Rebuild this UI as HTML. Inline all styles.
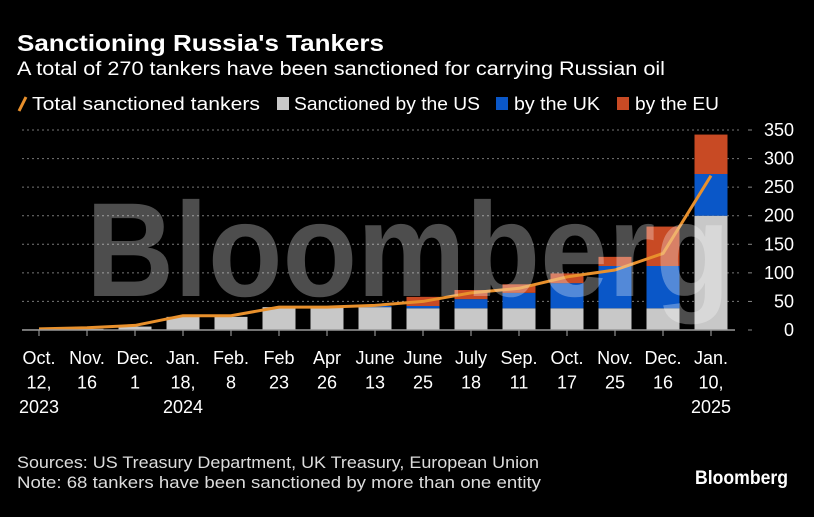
<!DOCTYPE html>
<html><head><meta charset="utf-8"><style>
html,body{margin:0;padding:0;background:#000;width:814px;height:517px;overflow:hidden}
svg{display:block;font-family:"Liberation Sans Narrow","Liberation Sans",sans-serif}
</style></head><body>
<svg id="chart" width="814" height="517" viewBox="0 0 814 517">
<rect width="814" height="517" fill="#000"/>
<text x="17" y="51" fill="#fff" font-size="23" font-weight="bold" textLength="367" lengthAdjust="spacingAndGlyphs">Sanctioning Russia's Tankers</text>
<text x="17" y="75" fill="#fff" font-size="19" textLength="648" lengthAdjust="spacingAndGlyphs">A total of 270 tankers have been sanctioned for carrying Russian oil</text>
<g>
<line x1="19" y1="111" x2="26" y2="97" stroke="#e8902c" stroke-width="3"/>
<text x="32" y="110" fill="#fff" font-size="18" textLength="228" lengthAdjust="spacingAndGlyphs">Total sanctioned tankers</text>
<rect x="277" y="97" width="12" height="13" fill="#c8c8c8"/>
<text x="294" y="110" fill="#fff" font-size="18" textLength="186" lengthAdjust="spacingAndGlyphs">Sanctioned by the US</text>
<rect x="496" y="97" width="12" height="13" fill="#0a57c8"/>
<text x="514" y="110" fill="#fff" font-size="18" textLength="86" lengthAdjust="spacingAndGlyphs">by the UK</text>
<rect x="617" y="97" width="12" height="13" fill="#c84a24"/>
<text x="635" y="110" fill="#fff" font-size="18" textLength="84" lengthAdjust="spacingAndGlyphs">by the EU</text>
</g>
<g id="grid"></g><g id="bars"></g><g id="line"></g>
<text x="408" y="296" text-anchor="middle" fill="#fff" fill-opacity="0.3" font-family="Liberation Sans,sans-serif" font-size="134" font-weight="bold" textLength="644" lengthAdjust="spacingAndGlyphs">Bloomberg</text>
<g id="axis"></g>
<text x="17" y="468" fill="#ddd" font-size="17" textLength="522" lengthAdjust="spacingAndGlyphs">Sources: US Treasury Department, UK Treasury, European Union</text>
<text x="17" y="488" fill="#ddd" font-size="17" textLength="524" lengthAdjust="spacingAndGlyphs">Note: 68 tankers have been sanctioned by more than one entity</text>
<text x="695" y="484" fill="#fff" font-size="19" font-weight="bold" font-family="Liberation Sans,sans-serif" textLength="93" lengthAdjust="spacingAndGlyphs">Bloomberg</text>
</svg>
<script>
const categories1 = ["Oct.","Nov.","Dec.","Jan.","Feb.","Feb","Apr","June","June","July","Sep.","Oct.","Nov.","Dec.","Jan."];
const categories2 = ["12,","16","1","18,","8","23","26","13","25","18","11","17","25","16","10,"];
const categories3 = ["2023","","","2024","","","","","","","","","","","2025"];
const usValues = [1,2,6,23,23,40,40,40,38,38,38,38,38,38,200];
const ukValues = [0,0,0,0,0,0,0,2,4,16,27,44,74,74,73];
const euValues = [0,0,0,0,0,0,0,0,16,16,15,17,16,69,69];
const totalValues = [2,4,8,25,25,40,40,43,50,65,73,93,105,134,270];
const yTicks = [0,50,100,150,200,250,300,350];

const NS="http://www.w3.org/2000/svg";
const x0=39, step=48, y0=330, yScale=200/350, bw=33;
const xPos=i=>x0+i*step;
const yPos=v=>y0-v*yScale;
function mk(tag,attrs,parent){const e=document.createElementNS(NS,tag);for(const k in attrs)e.setAttribute(k,attrs[k]);parent.appendChild(e);return e;}
const grid=document.getElementById('grid'),bars=document.getElementById('bars'),lineG=document.getElementById('line'),axis=document.getElementById('axis');
yTicks.forEach(t=>{
  if(t>0){const g=mk('line',{x1:22,x2:740,y1:yPos(t),y2:yPos(t),stroke:'#777','stroke-width':1,'stroke-dasharray':'2 3'},grid);
  
  }
  const tk=mk('line',{x1:748,x2:752,y1:yPos(t),y2:yPos(t),stroke:'#888'},axis);
  
  
  const lb=mk('text',{x:794,y:yPos(t)+6,'text-anchor':'end',fill:'#fff','font-size':18},axis);
  lb.textContent=t;
  
  
});
categories1.forEach((c,i)=>{
  const x=xPos(i)-bw/2;
  const segs=[[usValues[i],'#c8c8c8','us'],[ukValues[i],'#0a57c8','uk'],[euValues[i],'#c84a24','eu']];
  let base=0;
  segs.forEach(s=>{
    if(s[0]>0){const r=mk('rect',{x:x,y:yPos(base+s[0]),width:bw,height:s[0]*yScale,fill:s[1]},bars);
    
    }
    base+=s[0];
  });
  const tk=mk('line',{x1:xPos(i),x2:xPos(i),y1:y0,y2:y0+6,stroke:'#aaa'},axis);
  
  
  [categories1[i],categories2[i],categories3[i]].forEach((t,r)=>{
    if(!t)return;
    const lb=mk('text',{x:xPos(i),y:364+r*24.5,'text-anchor':'middle',fill:'#fff','font-size':18},axis);
    lb.textContent=t;
    
    
  });
});
const bl=mk('line',{x1:22,x2:735,y1:y0,y2:y0,stroke:'#999','stroke-width':1.5},axis);


const pts=totalValues.map((v,i)=>xPos(i)+','+yPos(v)).join(' ');
const pl=mk('polyline',{points:pts,fill:'none',stroke:'#e8902c','stroke-width':3,'stroke-linejoin':'round'},lineG);


</script>
</body></html>
